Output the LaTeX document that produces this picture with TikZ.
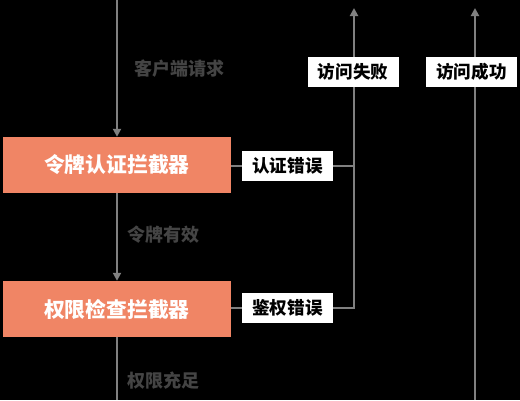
\documentclass[tikz,border=0pt]{standalone}
\usepackage{fontspec}
\setmainfont{Noto Sans CJK SC}
\usetikzlibrary{arrows.meta}
\definecolor{boxfill}{HTML}{F08565}
\definecolor{linegray}{HTML}{808080}
\definecolor{labgray}{HTML}{444444}
\begin{document}
\begin{tikzpicture}[x=1pt,y=-1pt,
  conn/.style={draw=linegray,line width=2.2pt},
  arr/.style={conn,-{Triangle[length=8pt,width=8pt]}},
  filterbox/.style={fill=boxfill,text=white,font=\fontsize{20.8}{22}\selectfont\bfseries,minimum width=228pt,minimum height=56pt,inner sep=0pt},
  tagbox/.style={fill=white,text=black,font=\fontsize{17.6}{19}\selectfont\bfseries,minimum width=91pt,minimum height=30pt,inner sep=0pt},
  flowlab/.style={text=labgray,font=\fontsize{18}{20}\selectfont\bfseries,anchor=west,inner sep=0pt}]
\fill[black] (0,0) rectangle (520,400);
\useasboundingbox (0,0) rectangle (520,400);
\coordinate (top) at (117,0);
\coordinate (bot) at (117,400);
\node[filterbox] (f1) at (117,165) {令牌认证拦截器};
\node[filterbox] (f2) at (117,309) {权限检查拦截器};
\node[tagbox] (e1) at (287.5,166) {认证错误};
\node[tagbox] (e2) at (287.5,308) {鉴权错误};
\coordinate (failtop) at (354,8);
\coordinate (failj1) at (354,166);
\coordinate (failj2) at (354,308);
\coordinate (succtop) at (475,8);
\coordinate (succbot) at (475,400);
\draw[arr] (top) -- (f1.north);
\draw[arr] (f1.south) -- (f2.north);
\draw[conn] (f2.south) -- (bot);
\draw[conn] (f1.east |- e1) -- (e1.west);
\draw[conn] (f2.east |- e2) -- (e2.west);
\draw[conn] (e1.east) -- (failj1);
\draw[conn] (e2.east) -- (failj2) -- (failj1);
\draw[arr] (failj1) -- (failtop);
\draw[arr] (succbot) -- (succtop);
\node[tagbox] (ok1) at (353,72) {访问失败};
\node[tagbox] (ok2) at (471.5,72) {访问成功};
\node[flowlab] (l1) at (134,69) {客户端请求};
\node[flowlab] (l2) at (127,235) {令牌有效};
\node[flowlab] (l3) at (127,381) {权限充足};
\end{tikzpicture}
\end{document}
